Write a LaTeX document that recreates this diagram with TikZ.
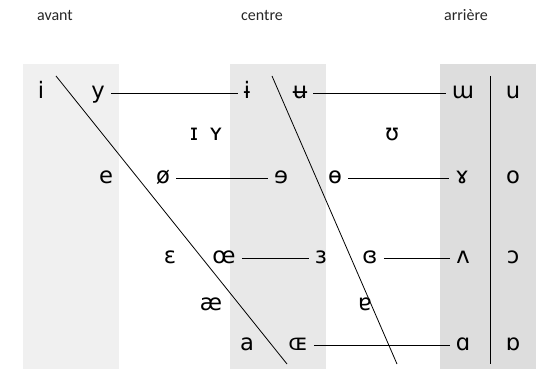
\documentclass[tikz,border=0pt]{standalone}
\usepackage{fontspec}
\setmainfont{Carlito}
\newfontfamily\ipafont{DejaVu Sans}
\usetikzlibrary{positioning,calc}
\definecolor{frontgray}{HTML}{F0F0F0}
\definecolor{centralgray}{HTML}{E8E8E8}
\definecolor{backgray}{HTML}{DDDDDD}

\begin{document}
\begin{tikzpicture}[x=0.75pt, y=-0.75pt,
    vowel/.style={font=\ipafont\fontsize{17}{19}\selectfont, anchor=base, inner xsep=4.5pt},
    heading/.style={font=\fontsize{12}{14}\selectfont, anchor=base, text=black!85},
    link/.style={draw=black, line width=0.75pt},
    slant/.style={draw=black, line width=0.6pt}
]
\useasboundingbox (0,0) rectangle (536,370);

% Bands
\fill[frontgray] (23,64) rectangle (119,369);
\fill[centralgray] (230,64) rectangle (326,369);
\fill[backgray] (440,64) rectangle (536,369);

% Headings
\node[heading] (front) at (55,21) {avant};
\node[heading] (central) at (262,21) {centre};
\node[heading] (back) at (466,21) {arrière};

% Close
\node[vowel] (i) at (41,99) {i};
\node[vowel] (y) at (98,99) {y};
\node[vowel] (ibar) at (247,99) {ɨ};
\node[vowel] (ubar) at (300,99) {ʉ};
\node[vowel] (turnm) at (463,99) {ɯ};
\node[vowel] (u) at (513,99) {u};

% Near-close
\node[vowel] (smallI) at (194,141) {ɪ};
\node[vowel] (smallY) at (216,141) {ʏ};
\node[vowel] (upsilon) at (392,141) {ʊ};

% Close-mid
\node[vowel] (e) at (106,184) {e};
\node[vowel] (oslash) at (163,184) {ø};
\node[vowel] (reve) at (281,184) {ɘ};
\node[vowel] (obar) at (335,184) {ɵ};
\node[vowel] (ramshorn) at (462,184) {ɤ};
\node[vowel] (o) at (513,184) {o};

% Open-mid
\node[vowel] (epsilon) at (170,264) {ɛ};
\node[vowel] (oe) at (224,264) {œ};
\node[vowel] (reveps) at (321,264) {ɜ};
\node[vowel] (closedeps) at (370,264) {ɞ};
\node[vowel] (turnv) at (463,264) {ʌ};
\node[vowel] (openo) at (513,264) {ɔ};

% Near-open
\node[vowel] (ae) at (211,311) {æ};
\node[vowel] (turna) at (365,311) {ɐ};

% Open
\node[vowel] (a) at (247,351) {a};
\node[vowel] (smalloe) at (298,351) {ɶ};
\node[vowel] (alpha) at (463,351) {ɑ};
\node[vowel] (turnalpha) at (513,351) {ɒ};

% Rounding links
\draw[link] ([yshift=3.8pt]y.base east) -- ([yshift=3.8pt]ibar.base west);
\draw[link] ([yshift=3.8pt]ubar.base east) -- ([yshift=3.8pt]turnm.base west);
\draw[link] ([yshift=3.8pt]oslash.base east) -- ([yshift=3.8pt]reve.base west);
\draw[link] ([yshift=3.8pt]obar.base east) -- ([yshift=3.8pt]ramshorn.base west);
\draw[link] ([yshift=3.8pt]oe.base east) -- ([yshift=3.8pt]reveps.base west);
\draw[link] ([yshift=3.8pt]closedeps.base east) -- ([yshift=3.8pt]turnv.base west);
\draw[link] ([yshift=3.8pt]smalloe.base east) -- ([yshift=3.8pt]alpha.base west);

% Trapezium edges
\coordinate (fronttop) at (56,76);
\coordinate (frontbot) at (287,364);
\coordinate (midtop) at (272,76);
\coordinate (midbot) at (397,364);
\coordinate (backtop) at (490,76);
\coordinate (backbot) at (490,364);
\draw[slant] (fronttop) -- (frontbot);
\draw[slant] (midtop) -- (midbot);
\draw[slant] (backtop) -- (backbot);

\end{tikzpicture}
\end{document}
